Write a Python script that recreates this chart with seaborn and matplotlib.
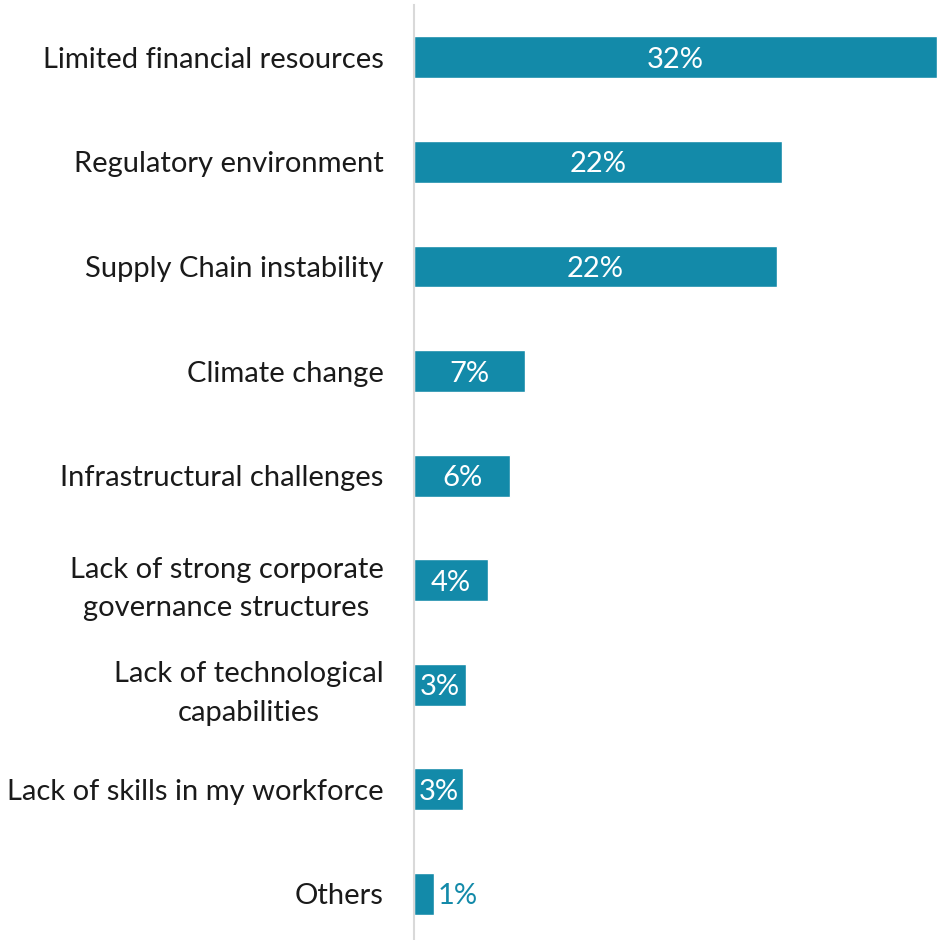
import matplotlib
matplotlib.use("Agg")
import matplotlib.pyplot as plt
import pandas as pd
import seaborn as sns

categories = [
    "Limited financial resources",
    "Regulatory environment",
    "Supply Chain instability",
    "Climate change",
    "Infrastructural challenges",
    "Lack of strong corporate\ngovernance structures",
    "Lack of technological\ncapabilities",
    "Lack of skills in my workforce",
    "Others",
]
values = [32.0, 22.5, 22.2, 6.8, 5.9, 4.5, 3.2, 3.0, 1.2]
labels = ["32%", "22%", "22%", "7%", "6%", "4%", "3%", "3%", "1%"]

TEAL = "#138AA9"

sns.set_theme(style="white")
plt.rcParams["font.family"] = ["Lato", "DejaVu Sans"]

df = pd.DataFrame({"category": categories, "value": values, "label": labels})

fig = plt.figure(figsize=(9.38, 9.40), dpi=100)
ax = fig.add_axes([414 / 938, 0, (938 - 414) / 938, (940 - 5) / 940])

sns.barplot(data=df, x="value", y="category", orient="h", color=TEAL,
            width=0.4, saturation=1, ax=ax)

ax.set_xlim(0, 32.05)
ax.set_ylim(8.44, -0.5)
ax.set_xlabel("")
ax.set_ylabel("")
ax.set_xticks([])
for s in ["top", "right", "bottom"]:
    ax.spines[s].set_visible(False)
ax.spines["left"].set_color("#d9d9d9")
ax.spines["left"].set_linewidth(1.5)
ax.tick_params(axis="y", length=0, pad=22)
ax.set_yticks(range(len(categories)))
ax.set_yticklabels(categories, fontsize=21, color="#1a1a1a",
                   multialignment="center", linespacing=1.6)

for i, (v, lab) in enumerate(zip(values, labels)):
    if v > 2:
        ax.text(v / 2, i, lab, ha="center", va="center_baseline", color="white",
                fontsize=21)
    else:
        ax.text(v + 0.25, i, lab, ha="left", va="center_baseline", color=TEAL,
                fontsize=21)

fig.savefig("out.png", dpi=100)
